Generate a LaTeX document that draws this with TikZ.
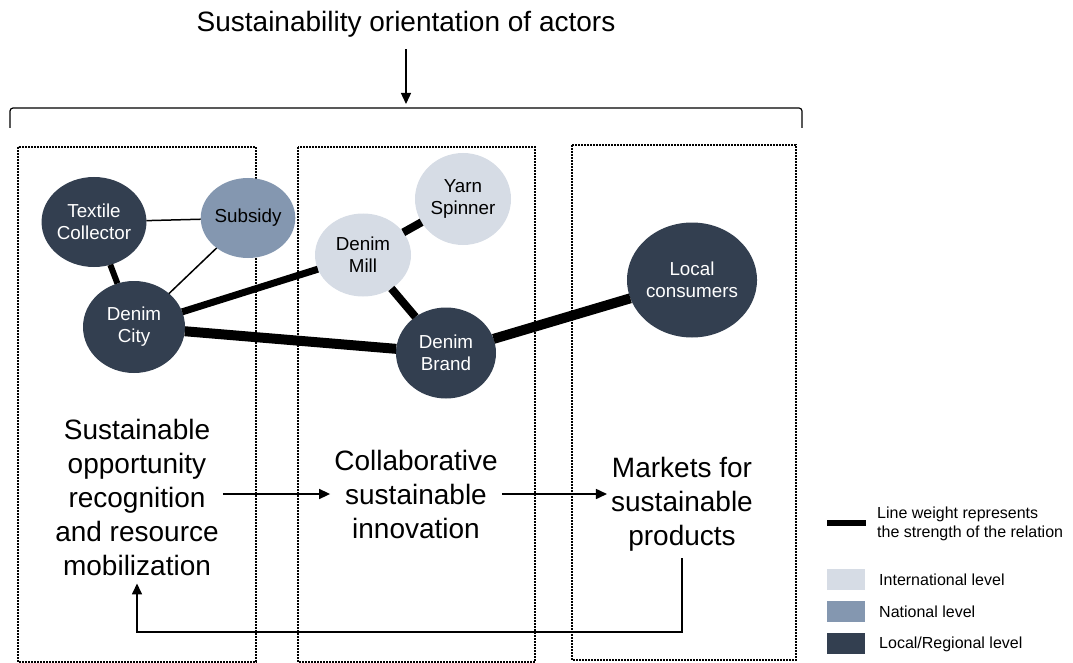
\documentclass[tikz,border=0pt]{standalone}
\usepackage{fontspec}
\setmainfont{Liberation Sans}
\usepackage{tkz-graph}
\usetikzlibrary{arrows.meta,shapes.geometric}

\definecolor{localblue}{HTML}{333F50}
\definecolor{natblue}{HTML}{8497B0}
\definecolor{intblue}{HTML}{D6DCE5}

\tikzset{
  actor/.style={shape=ellipse,draw=none,inner sep=0pt,align=center,
    font=\fontsize{18.8}{22}\selectfont},
  regional/.style={fill=localblue,text=white},
  national/.style={fill=natblue,text=black},
  international/.style={fill=intblue,text=black},
  phase/.style={align=center,inner sep=4pt,font=\fontsize{28}{34}\selectfont},
  phasebox/.style={draw,line width=1.6pt,dash pattern=on 1.6pt off 1.4pt},
  flow/.style={line width=1.6pt,-{Triangle[length=11pt,width=10pt]}},
  keytext/.style={align=left,inner sep=0pt,font=\fontsize{16}{19}\selectfont}
}

\begin{document}
\begin{tikzpicture}[x=1pt,y=-1pt]
  \useasboundingbox (0,0) rectangle (1073,663);
  \node[phase] (title) at (406,24) {Sustainability orientation of actors};
  \coordinate (brace) at (406,104);
  \draw[flow,line width=1.3pt] (title.south) ++(0,8) -- (brace);
  \draw[line width=1.2pt,rounded corners=3pt] (10,128) |- (802,108) -- (802,128);

  \draw[phasebox] (18,147) rectangle (256,662);
  \draw[phasebox] (298,147) rectangle (535,662);
  \draw[phasebox] (572,145) rectangle (796,660);

  \GraphInit[vstyle=Normal]
  \tikzset{VertexStyle/.style={actor},EdgeStyle/.style={draw,black}}
  \Vertex[x=94,y=222,L={Textile\\Collector},style={regional,minimum width=98pt,minimum height=90pt}]{TC}
  \Vertex[x=248,y=218,L={Subsidy},style={national,minimum width=88pt,minimum height=80pt}]{SUB}
  \Vertex[x=134,y=327,L={Denim\\City},style={regional,minimum width=102pt,minimum height=92pt}]{DC}
  \Vertex[x=363,y=255,L={Denim\\Mill},style={international,minimum width=96pt,minimum height=83pt}]{DM}
  \Vertex[x=463,y=199,L={Yarn\\Spinner},style={international,minimum width=96pt,minimum height=92pt}]{YS}
  \Vertex[x=446,y=353,L={Denim\\Brand},style={regional,minimum width=100pt,minimum height=91pt}]{DB}
  \Vertex[x=692,y=280,L={Local\\consumers},style={regional,minimum width=124pt,minimum height=115pt}]{LC}
  \Edge[style={line width=1.5pt}](TC)(SUB)
  \Edge[style={line width=1.5pt}](SUB)(DC)
  \Edge[style={line width=6pt}](TC)(DC)
  \Edge[style={line width=7pt}](DC)(DM)
  \Edge[style={line width=10pt}](DC)(DB)
  \Edge[style={line width=8pt}](DM)(YS)
  \Edge[style={line width=8pt}](DM)(DB)
  \Edge[style={line width=10pt}](DB)(LC)

  \node[phase] (recog) at (137,497) {Sustainable\\opportunity\\recognition\\and resource\\mobilization};
  \node[phase] (innov) at (416,494) {Collaborative\\sustainable\\innovation};
  \node[phase] (market) at (682,504) {Markets for\\sustainable\\products};
  \draw[flow] (recog.east |- innov) -- (innov.west);
  \draw[flow] (innov.east) -- (innov.east -| market.west);
  \coordinate (back) at (682,632);
  \draw[flow,shorten <=3pt,shorten >=4pt] (market.south) -- (back) -| (recog.south);

  \draw[line width=6pt] (827,523) -- (866,523);
  \node[keytext,anchor=west] (keyline) at (877,524) {Line weight represents\\the strength of the relation};
  \foreach \c/\t [count=\i from 0] in {intblue/International level,natblue/National level,localblue/{Local/Regional level}}{
    \fill[\c] (827,569+32*\i) rectangle (865,590+32*\i);
    \node[keytext,anchor=west] (key\i) at (879,580+32*\i) {\t};
  }
\end{tikzpicture}
\end{document}
